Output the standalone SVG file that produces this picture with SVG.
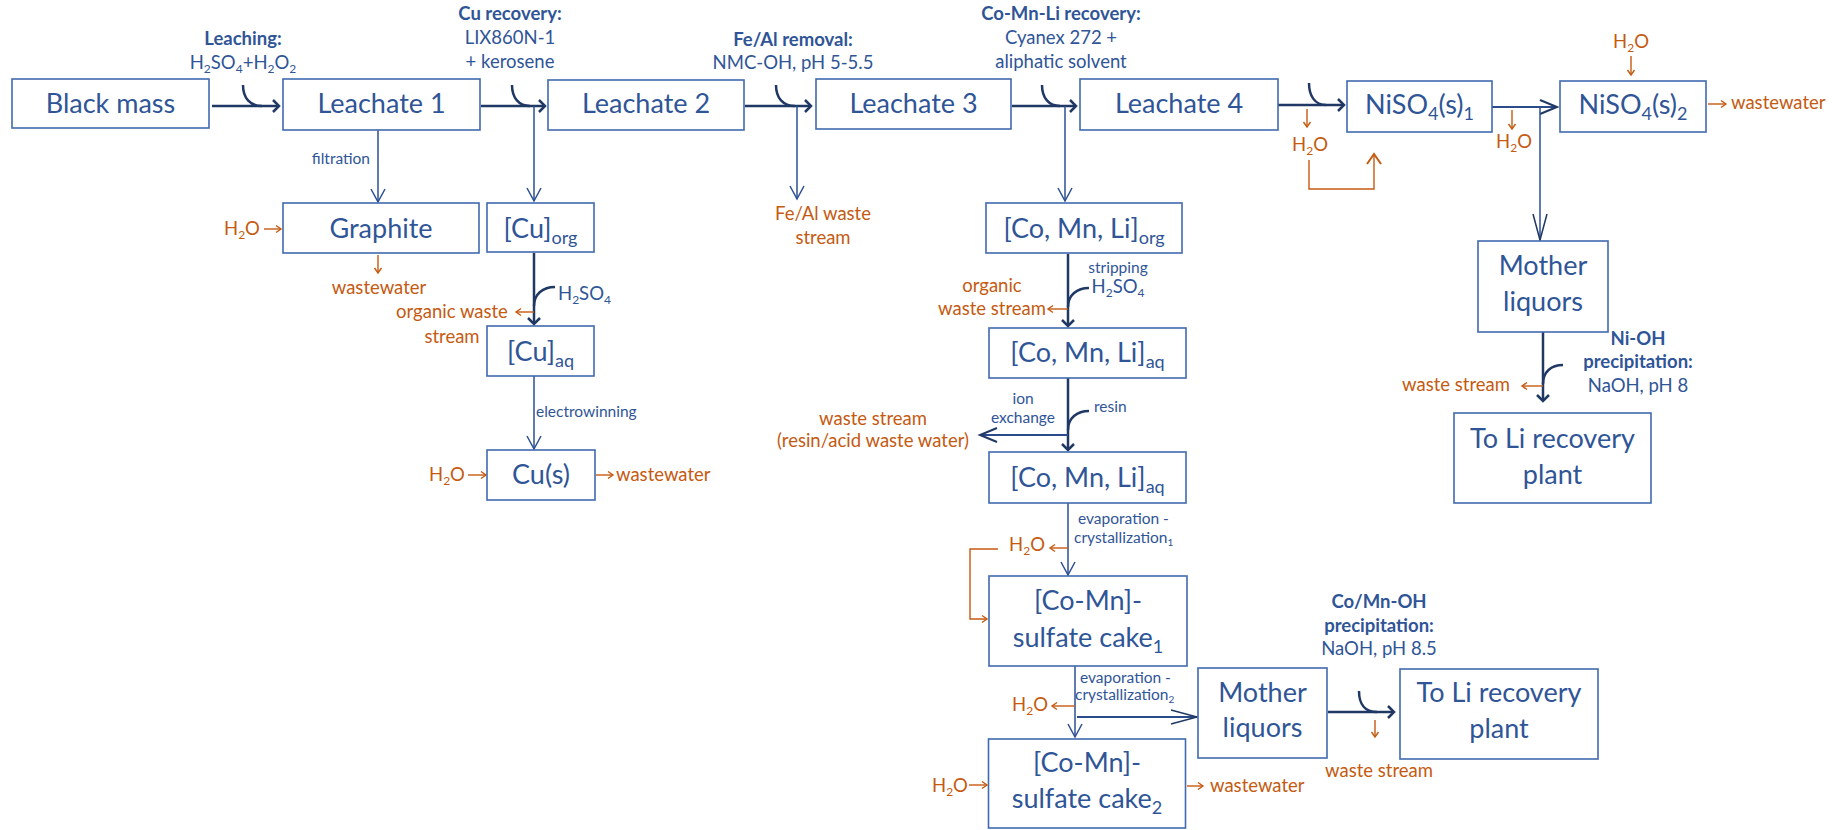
<svg xmlns="http://www.w3.org/2000/svg" width="1843" height="830" viewBox="0 0 1843 830">
<style>
  .box rect { fill: #ffffff; stroke: #4169B0; stroke-width: 1.6; }
  text { font-family: Lato, "Open Sans", "Liberation Sans", sans-serif; }
  .bt { font-size: 27px; fill: #2F5597; text-anchor: middle; }
  .lb { font-size: 18.5px; fill: #2F5597; text-anchor: middle; }
  .bd { font-weight: bold; }
  .tn { font-size: 15.5px; }
  .or { fill: #C55A11; }
  .st { text-anchor: start; }
  .en { text-anchor: end; }
  .main { stroke: #1F3864; stroke-width: 2.5; fill: none; }
  .thin { stroke: #2B4F92; stroke-width: 1.5; fill: none; }
  .mid { stroke: #2B4B8A; stroke-width: 2; fill: none; }
  .orl { stroke: #C55A11; stroke-width: 1.4; fill: none; }
</style>
<defs>
  <marker id="ah-main" markerUnits="userSpaceOnUse" markerWidth="20" markerHeight="20" refX="0" refY="0" orient="auto" overflow="visible">
    <path d="M-6,-6 L0,0 L-6,6" fill="none" stroke="#1F3864" stroke-width="2.5"/>
  </marker>
  <marker id="ah-thin" markerUnits="userSpaceOnUse" markerWidth="20" markerHeight="20" refX="0" refY="0" orient="auto" overflow="visible">
    <path d="M-13,-7 L0,0 L-13,7" fill="none" stroke="#2B4F92" stroke-width="1.5"/>
  </marker>
  <marker id="ah-long" markerUnits="userSpaceOnUse" markerWidth="30" markerHeight="20" refX="0" refY="0" orient="auto" overflow="visible">
    <path d="M-26,-7 L0,0 L-26,7" fill="none" stroke="#1F3864" stroke-width="1.5"/>
  </marker>
  <marker id="ah-big" markerUnits="userSpaceOnUse" markerWidth="30" markerHeight="20" refX="0" refY="0" orient="auto" overflow="visible">
    <path d="M-17,-7 L0,0 L-17,7" fill="none" stroke="#1F3864" stroke-width="2"/>
  </marker>
  <marker id="ah-or" markerUnits="userSpaceOnUse" markerWidth="10" markerHeight="10" refX="0" refY="0" orient="auto" overflow="visible">
    <path d="M-5,-3.5 L0,0 L-5,3.5" fill="none" stroke="#C55A11" stroke-width="1.4"/>
  </marker>
  <marker id="ah-or-big" markerUnits="userSpaceOnUse" markerWidth="20" markerHeight="20" refX="0" refY="0" orient="auto" overflow="visible">
    <path d="M-10,-7 L0,0 L-10,7" fill="none" stroke="#C55A11" stroke-width="2"/>
  </marker>
</defs>
<rect width="1843" height="830" fill="#ffffff"/>

<!-- process connectors -->
<g id="connectors">
  <!-- main line: black mass to leachates -->
  <path class="main" d="M212,106 L279,106" marker-end="url(#ah-main)"/>
  <path class="main" d="M243,85 C243,98 250,106 262,106"/>
  <path class="main" d="M481,106 L545,106" marker-end="url(#ah-main)"/>
  <path class="main" d="M512,85 C512,98 519,106 530,106"/>
  <path class="thin" d="M534,106 L534,201" marker-end="url(#ah-thin)"/>
  <path class="main" d="M745,106 L811,106" marker-end="url(#ah-main)"/>
  <path class="main" d="M776,85 C776,98 783,106 795,106"/>
  <path class="thin" d="M797,106 L797,199" marker-end="url(#ah-thin)"/>
  <path class="main" d="M1012,106 L1076,106" marker-end="url(#ah-main)"/>
  <path class="main" d="M1042,85 C1042,98 1049,106 1060,106"/>
  <path class="thin" d="M1065,106 L1065,201" marker-end="url(#ah-thin)"/>
  <path class="main" d="M1278,105 L1344,105" marker-end="url(#ah-main)"/>
  <path class="main" d="M1309,83 C1309,96 1315,105 1326,105"/>
  <path class="mid" d="M1492,107 L1557,107" marker-end="url(#ah-big)"/>
  <path class="thin" d="M1540,108 L1540,240" marker-end="url(#ah-long)"/>

  <!-- copper branch -->
  <path class="thin" d="M378,130 L378,202" marker-end="url(#ah-thin)"/>
  <path class="main" d="M534,253 L534,324" marker-end="url(#ah-main)"/>
  <path class="main" d="M555,287 C543,287 534,294 534,306"/>
  <path class="thin" d="M534,376 L534,449" marker-end="url(#ah-thin)"/>

  <!-- cobalt / manganese / lithium branch -->
  <path class="main" d="M1068,254 L1068,326" marker-end="url(#ah-main)"/>
  <path class="main" d="M1089,288 C1077,288 1068,295 1068,307"/>
  <path class="main" d="M1068,378 L1068,450" marker-end="url(#ah-main)"/>
  <path class="main" d="M1089,411 C1077,411 1068,418 1068,430"/>
  <path class="mid" d="M1068,435 L980,435" marker-end="url(#ah-big)"/>
  <path class="thin" d="M1068,503 L1068,575" marker-end="url(#ah-thin)"/>
  <path class="thin" d="M1075,666 L1075,737" marker-end="url(#ah-thin)"/>
  <path class="mid" d="M1077,717 L1197,717" marker-end="url(#ah-long)"/>
  <path class="main" d="M1328,712 L1394,712" marker-end="url(#ah-main)"/>
  <path class="main" d="M1359,691 C1359,704 1365,712 1377,712"/>

  <!-- nickel mother liquors -->
  <path class="main" d="M1543,332 L1543,401" marker-end="url(#ah-main)"/>
  <path class="main" d="M1563,365 C1551,365 1543,372 1543,384"/>

  <!-- water and waste streams -->
  <path class="orl" d="M264,229 L281,229" marker-end="url(#ah-or)"/>
  <path class="orl" d="M378,255 L378,273" marker-end="url(#ah-or)"/>
  <path class="orl" d="M534,312 L516,312" marker-end="url(#ah-or)"/>
  <path class="orl" d="M468,475 L486,475" marker-end="url(#ah-or)"/>
  <path class="orl" d="M596,475 L613,475" marker-end="url(#ah-or)"/>
  <path class="orl" d="M1068,309 L1048,309" marker-end="url(#ah-or)"/>
  <path class="orl" d="M1068,548 L1050,548" marker-end="url(#ah-or)"/>
  <path class="orl" d="M998,549 L970,549 L970,619 L987,619" marker-end="url(#ah-or)"/>
  <path class="orl" d="M1075,706 L1052,706" marker-end="url(#ah-or)"/>
  <path class="orl" d="M969,785 L987,785" marker-end="url(#ah-or)"/>
  <path class="orl" d="M1187,786 L1203,786" marker-end="url(#ah-or)"/>
  <path class="orl" d="M1375,720 L1375,737" marker-end="url(#ah-or)"/>
  <path class="orl" d="M1307,109 L1307,127" marker-end="url(#ah-or)"/>
  <path class="orl" d="M1309,160 L1309,189 L1374,189 L1374,154" stroke="#D98A50" marker-end="url(#ah-or-big)"/>
  <path class="orl" d="M1512,110 L1512,129" marker-end="url(#ah-or)"/>
  <path class="orl" d="M1631,56 L1631,75" marker-end="url(#ah-or)"/>
  <path class="orl" d="M1708,104 L1726,104" marker-end="url(#ah-or)"/>
  <path class="orl" d="M1543,386 L1522,386" marker-end="url(#ah-or)"/>
</g>

<!-- step labels -->
<g id="labels">
  <text class="lb bd" x="243" y="45">Leaching:</text>
  <text class="lb" x="243" y="69">H<tspan dy="4" font-size="12">2</tspan><tspan dy="-4">SO</tspan><tspan dy="4" font-size="12">4</tspan><tspan dy="-4">+H</tspan><tspan dy="4" font-size="12">2</tspan><tspan dy="-4">O</tspan><tspan dy="4" font-size="12">2</tspan></text>
  <text class="lb bd" x="510" y="20">Cu recovery:</text>
  <text class="lb" x="510" y="44">LIX860N-1</text>
  <text class="lb" x="510" y="68">+ kerosene</text>
  <text class="lb bd" x="793" y="46">Fe/Al removal:</text>
  <text class="lb" x="793" y="69">NMC-OH, pH 5-5.5</text>
  <text class="lb bd" x="1061" y="20">Co-Mn-Li recovery:</text>
  <text class="lb" x="1061" y="44">Cyanex 272 +</text>
  <text class="lb" x="1061" y="68">aliphatic solvent</text>

  <text class="lb tn en" x="370" y="164">filtration</text>
  <text class="lb st" x="558" y="300">H<tspan dy="4" font-size="12">2</tspan><tspan dy="-4">SO</tspan><tspan dy="4" font-size="12">4</tspan></text>
  <text class="lb tn st" x="536" y="417">electrowinning</text>
  <text class="lb tn" x="1118" y="273">stripping</text>
  <text class="lb" x="1118" y="293">H<tspan dy="4" font-size="12">2</tspan><tspan dy="-4">SO</tspan><tspan dy="4" font-size="12">4</tspan></text>
  <text class="lb tn" x="1023" y="404">ion</text>
  <text class="lb tn" x="1023" y="423">exchange</text>
  <text class="lb tn st" x="1094" y="412">resin</text>
  <text class="lb tn st" x="1078" y="524">evaporation -</text>
  <text class="lb tn st" x="1074" y="543">crystallization<tspan dy="3" font-size="10">1</tspan></text>
  <text class="lb tn st" x="1080" y="683">evaporation -</text>
  <text class="lb tn st" x="1075" y="700">crystallization<tspan dy="3" font-size="10">2</tspan></text>
  <text class="lb bd" x="1638" y="345">Ni-OH</text>
  <text class="lb bd" x="1638" y="368">precipitation:</text>
  <text class="lb" x="1638" y="392">NaOH, pH 8</text>
  <text class="lb bd" x="1379" y="608">Co/Mn-OH</text>
  <text class="lb bd" x="1379" y="632">precipitation:</text>
  <text class="lb" x="1379" y="655">NaOH, pH 8.5</text>

  <!-- water inputs and waste outputs -->
  <text class="lb or st" x="224" y="235">H<tspan dy="4" font-size="12">2</tspan><tspan dy="-4">O</tspan></text>
  <text class="lb or" x="379" y="294">wastewater</text>
  <text class="lb or" x="452" y="318">organic waste</text>
  <text class="lb or" x="452" y="343">stream</text>
  <text class="lb or" x="823" y="220">Fe/Al waste</text>
  <text class="lb or" x="823" y="244">stream</text>
  <text class="lb or st" x="429" y="481">H<tspan dy="4" font-size="12">2</tspan><tspan dy="-4">O</tspan></text>
  <text class="lb or st" x="616" y="481">wastewater</text>
  <text class="lb or" x="992" y="292">organic</text>
  <text class="lb or" x="992" y="315">waste stream</text>
  <text class="lb or" x="873" y="425">waste stream</text>
  <text class="lb or" x="873" y="447">(resin/acid waste water)</text>
  <text class="lb or en" x="1045" y="551">H<tspan dy="4" font-size="12">2</tspan><tspan dy="-4">O</tspan></text>
  <text class="lb or en" x="1048" y="711">H<tspan dy="4" font-size="12">2</tspan><tspan dy="-4">O</tspan></text>
  <text class="lb or st" x="932" y="792">H<tspan dy="4" font-size="12">2</tspan><tspan dy="-4">O</tspan></text>
  <text class="lb or st" x="1210" y="792">wastewater</text>
  <text class="lb or" x="1379" y="777">waste stream</text>
  <text class="lb or" x="1310" y="151">H<tspan dy="4" font-size="12">2</tspan><tspan dy="-4">O</tspan></text>
  <text class="lb or" x="1514" y="148">H<tspan dy="4" font-size="12">2</tspan><tspan dy="-4">O</tspan></text>
  <text class="lb or" x="1631" y="48">H<tspan dy="4" font-size="12">2</tspan><tspan dy="-4">O</tspan></text>
  <text class="lb or st" x="1731" y="109">wastewater</text>
  <text class="lb or en" x="1510" y="391">waste stream</text>
</g>

<!-- process nodes -->
<g id="black-mass" class="box"><rect x="12" y="79" width="197" height="49"/><text class="bt" x="110.5" y="113">Black mass</text></g>
<g id="leachate-1" class="box"><rect x="283" y="79" width="197" height="51"/><text class="bt" x="381.5" y="113">Leachate 1</text></g>
<g id="leachate-2" class="box"><rect x="548" y="80" width="196" height="50"/><text class="bt" x="646" y="113">Leachate 2</text></g>
<g id="leachate-3" class="box"><rect x="816" y="79" width="195" height="50"/><text class="bt" x="913.5" y="113">Leachate 3</text></g>
<g id="leachate-4" class="box"><rect x="1080" y="79" width="198" height="51"/><text class="bt" x="1179" y="113">Leachate 4</text></g>
<g id="niso4-1" class="box"><rect x="1347" y="81" width="145" height="51"/><text class="bt" x="1419.5" y="114">NiSO<tspan dy="6" font-size="18">4</tspan><tspan dy="-6">(s)</tspan><tspan dy="6" font-size="18">1</tspan></text></g>
<g id="niso4-2" class="box"><rect x="1560" y="81" width="146" height="51"/><text class="bt" x="1633" y="114">NiSO<tspan dy="6" font-size="18">4</tspan><tspan dy="-6">(s)</tspan><tspan dy="6" font-size="18">2</tspan></text></g>
<g id="graphite" class="box"><rect x="283" y="203" width="196" height="50"/><text class="bt" x="381" y="238">Graphite</text></g>
<g id="cu-org" class="box"><rect x="487" y="203" width="107" height="49"/><text class="bt" x="540.5" y="238">[Cu]<tspan dy="6" font-size="18">org</tspan></text></g>
<g id="cu-aq" class="box"><rect x="487" y="326" width="107" height="50"/><text class="bt" x="540.5" y="361">[Cu]<tspan dy="6" font-size="18">aq</tspan></text></g>
<g id="cu-s" class="box"><rect x="487" y="450" width="108" height="50"/><text class="bt" x="541" y="484">Cu(s)</text></g>
<g id="comnli-org" class="box"><rect x="986" y="203" width="196" height="50"/><text class="bt" x="1084" y="238">[Co, Mn, Li]<tspan dy="6" font-size="18">org</tspan></text></g>
<g id="comnli-aq-1" class="box"><rect x="989" y="328" width="197" height="50"/><text class="bt" x="1087.5" y="362">[Co, Mn, Li]<tspan dy="6" font-size="18">aq</tspan></text></g>
<g id="comnli-aq-2" class="box"><rect x="989" y="452" width="197" height="51"/><text class="bt" x="1087.5" y="487">[Co, Mn, Li]<tspan dy="6" font-size="18">aq</tspan></text></g>
<g id="comn-cake-1" class="box"><rect x="989" y="576" width="198" height="90"/><text class="bt" x="1088" y="610">[Co-Mn]-</text><text class="bt" x="1088" y="647">sulfate cake<tspan dy="6" font-size="18">1</tspan></text></g>
<g id="comn-cake-2" class="box"><rect x="988.5" y="739" width="197" height="89"/><text class="bt" x="1087" y="772">[Co-Mn]-</text><text class="bt" x="1087" y="808">sulfate cake<tspan dy="6" font-size="18">2</tspan></text></g>
<g id="mother-liquors-comn" class="box"><rect x="1198" y="668" width="129" height="90"/><text class="bt" x="1262.5" y="702">Mother</text><text class="bt" x="1262.5" y="737">liquors</text></g>
<g id="li-plant-comn" class="box"><rect x="1400" y="669" width="198" height="90"/><text class="bt" x="1499" y="702">To Li recovery</text><text class="bt" x="1499" y="738">plant</text></g>
<g id="mother-liquors-ni" class="box"><rect x="1478" y="241" width="130" height="91"/><text class="bt" x="1543" y="275">Mother</text><text class="bt" x="1543" y="311">liquors</text></g>
<g id="li-plant-ni" class="box"><rect x="1454" y="413" width="197" height="90"/><text class="bt" x="1552.5" y="448">To Li recovery</text><text class="bt" x="1552.5" y="484">plant</text></g>
</svg>
